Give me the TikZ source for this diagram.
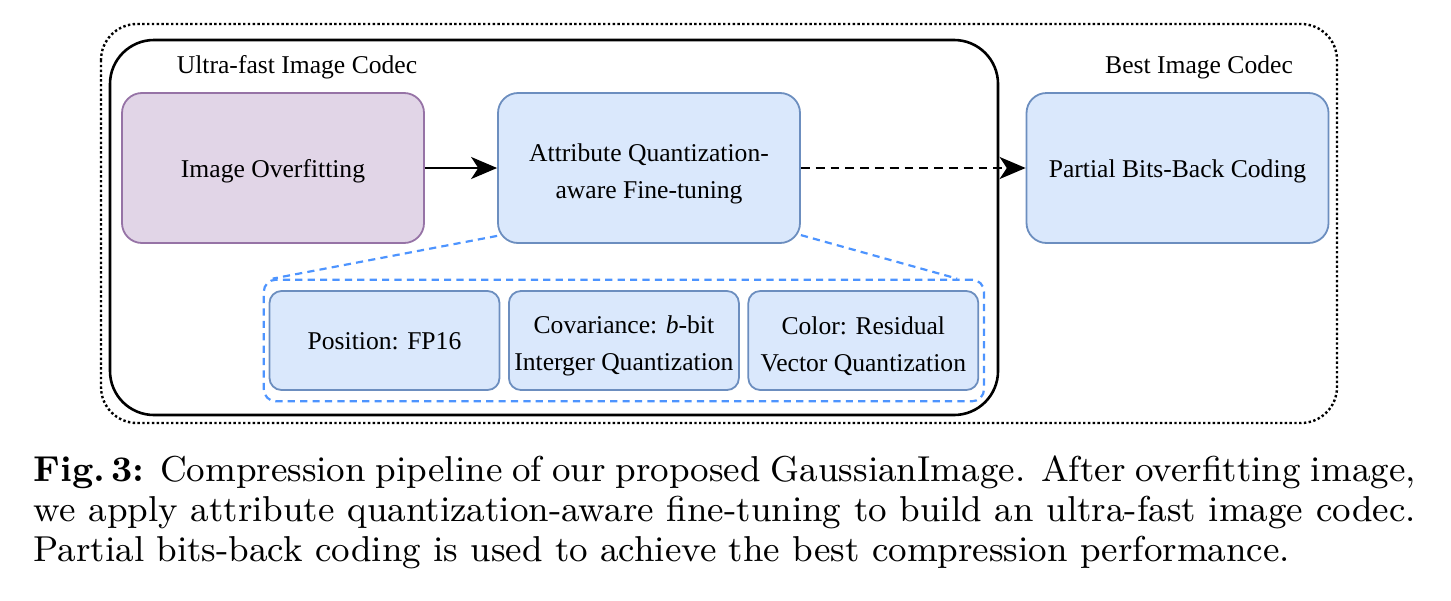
\documentclass[tikz,border=0pt]{standalone}
\usepackage{amsmath}
\usepackage{xcolor}
\usepackage{fontspec}
\newfontfamily\drawiofont{Liberation Serif}
\usepackage{tikz}
\usetikzlibrary{positioning,fit,arrows.meta}

\definecolor{fillblue}{HTML}{DAE8FC}
\definecolor{lineblue}{HTML}{6C8EBF}
\definecolor{fillpurple}{HTML}{E1D5E7}
\definecolor{linepurple}{HTML}{9673A6}
\definecolor{groupblue}{HTML}{4D94FF}

\newcommand{\diagfont}{\drawiofont\fontsize{6.4}{9.25}\selectfont}
\newcommand{\toplift}{\rule{0pt}{7.3pt}}

\tikzset{
  stagebox/.style={draw=lineblue, fill=fillblue, line width=0.45pt, rounded corners=5pt,
    minimum width=75.5pt, minimum height=37.5pt, align=center, font=\diagfont, inner sep=0pt},
  oneline/.style={text height=5.9pt, text depth=1.4pt},
  attrbox/.style={stagebox, rounded corners=3pt, minimum width=57.5pt, minimum height=24.75pt},
  codeclabel/.style={font=\diagfont, inner sep=0pt},
  tip/.style={-{Stealth[length=6.5pt,width=5.5pt,inset=1.8pt]}, line width=0.6pt},
  zoomline/.style={groupblue, line width=0.55pt, dash pattern=on 1.8pt off 1.3pt},
}

\begin{document}
\begin{tikzpicture}[x=0.25pt,y=-0.25pt]
\useasboundingbox (0,0) rectangle (1451,600);
% containers
\draw[line width=0.6pt, dash pattern=on 0.6pt off 0.6pt, rounded corners=9pt] (101,24) rectangle (1337,423);
\draw[line width=0.65pt, rounded corners=11pt] (110,40) rectangle (998,415);
\node[codeclabel] (fastlabel) at (297,67) {Ultra-fast Image Codec};
\node[codeclabel] (bestlabel) at (1199,67) {Best Image Codec};
% pipeline
\node[stagebox, oneline, draw=linepurple, fill=fillpurple] (overfit) at (273,168) {Image Overfitting};
\node[stagebox] (finetune) at (649,168) {\toplift Attribute Quantization-\\aware Fine-tuning};
\node[stagebox, oneline] (bitsback) at (1177.5,168) {Partial Bits-Back Coding};
\draw[tip] (overfit) -- (finetune.west |- overfit);
\draw[tip, dash pattern=on 2.2pt off 1.5pt] (finetune.east |- overfit) -- (bitsback);
% attributes
\node[attrbox, oneline] (position) at (384.5,340.5) {Position: FP16};
\node[attrbox, right=1.9pt of position] (covariance) {\toplift Covariance: \textit{b}-bit\\Interger Quantization};
\node[attrbox, right=1.9pt of covariance] (color) {\toplift Color: Residual\\Vector Quantization};
\node[zoomline, draw, rounded corners=3pt, inner xsep=1.2pt, inner ysep=2.6pt,
  fit=(position) (covariance) (color)] (attrgroup) {};
\draw[zoomline] ([yshift=2pt]finetune.south west) -- ([xshift=2.5pt]attrgroup.north west);
\draw[zoomline] ([yshift=2.2pt]finetune.south east) -- ([xshift=-7pt]attrgroup.north east);
% caption
\node[anchor=north west, inner sep=0pt, text width=345.5pt, align=justify,
  font=\fontsize{9}{10}\selectfont] (caption) at (33,455)
  {\textbf{Fig.\,3:} Compression pipeline of our proposed GaussianImage. After overfitting image,\linebreak
   we apply attribute quantization-aware fine-tuning to build an ultra-fast image codec.\linebreak
   Partial bits-back coding is used to achieve the best compression performance.};
\end{tikzpicture}
\end{document}
